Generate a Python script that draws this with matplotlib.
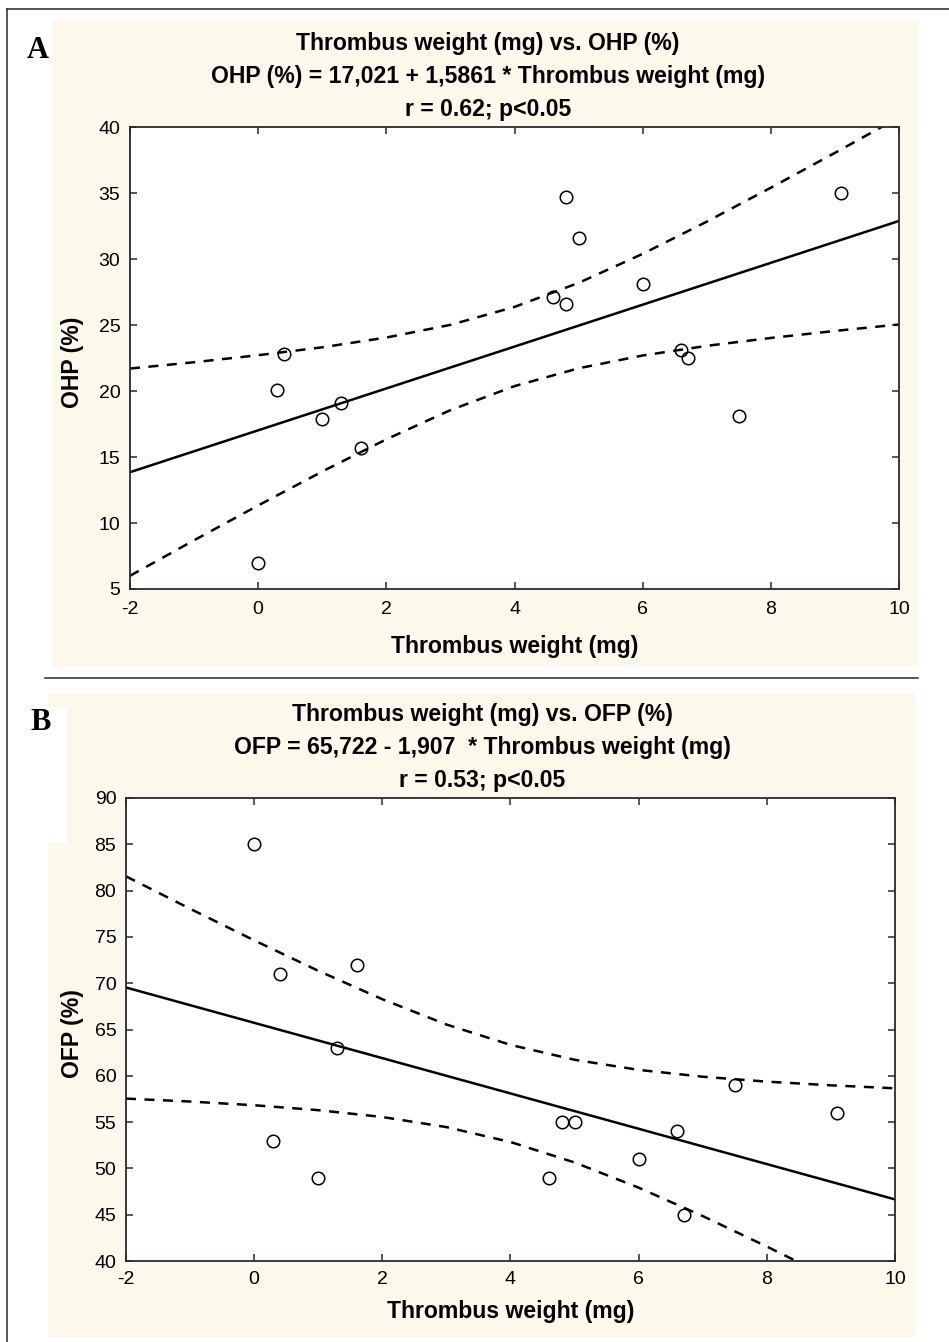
import matplotlib
matplotlib.use("Agg")
import matplotlib.pyplot as plt
from matplotlib.patches import Rectangle
from matplotlib.lines import Line2D

plt.rcParams['font.family'] = ['Liberation Sans', 'DejaVu Sans']
plt.rcParams['axes.unicode_minus'] = False

# ---------------- data ----------------
thrombus_weight = [0.0, 0.3, 0.4, 1.0, 1.3, 1.6, 4.6, 4.8, 4.8, 5.0, 6.0, 6.6, 6.7, 7.5, 9.1]
ohp = [7.0, 20.1, 22.8, 17.9, 19.1, 15.7, 27.1, 26.6, 34.7, 31.6, 28.1, 23.1, 22.5, 18.1, 35.0]

thrombus_weight_b = [0.0, 0.3, 0.4, 1.0, 1.3, 1.6, 4.6, 4.8, 5.0, 6.0, 6.6, 6.7, 7.5, 9.1]
ofp = [85.0, 53.0, 71.0, 49.0, 63.0, 72.0, 49.0, 55.0, 55.0, 51.0, 54.0, 45.0, 59.0, 56.0]

# regression coefficients (from the chart's equations)
ohp_intercept, ohp_slope = 17.021, 1.5861
ofp_intercept, ofp_slope = 65.722, -1.907

# 95% confidence bands
band_x = [-2, -1, 0, 1, 2, 3, 4, 5, 6, 7, 8, 9, 10]
ohp_upper = [21.70, 22.18, 22.71, 23.31, 24.05, 25.01, 26.37, 28.19, 30.39, 32.83, 35.40, 38.04, 40.73]
ohp_lower = [6.00, 8.69, 11.33, 13.90, 16.34, 18.55, 20.37, 21.72, 22.69, 23.42, 24.02, 24.55, 25.04]
ofp_upper = [81.54, 78.04, 74.63, 71.34, 68.27, 65.54, 63.34, 61.73, 60.64, 59.90, 59.37, 58.97, 58.65]
ofp_lower = [57.54, 57.22, 56.82, 56.29, 55.55, 54.46, 52.85, 50.64, 47.92, 44.85, 41.56, 38.15, 34.65]

x_ticks = [-2, 0, 2, 4, 6, 8, 10]
ohp_ticks = [5, 10, 15, 20, 25, 30, 35, 40]
ofp_ticks = [40, 45, 50, 55, 60, 65, 70, 75, 80, 85, 90]

title_a = ["Thrombus weight (mg) vs. OHP (%)",
           "OHP (%) = 17,021 + 1,5861 * Thrombus weight (mg)",
           "r = 0.62; p<0.05"]
title_b = ["Thrombus weight (mg) vs. OFP (%)",
           "OFP = 65,722 - 1,907  * Thrombus weight (mg)",
           "r = 0.53; p<0.05"]
xlabel = "Thrombus weight (mg)"

# ---------------- layout ----------------
W, H = 949, 1342
fig = plt.figure(figsize=(W / 100, H / 100), dpi=100)
fig.patch.set_facecolor('white')

def fx(x):
    return x / W

def fy(y):
    return 1 - y / H

BEIGE = '#fdf8ec'
DARK = '#2a2a2a'

def rect(x0, y0, x1, y1, color):
    fig.add_artist(Rectangle((fx(x0), fy(y1)), fx(x1) - fx(x0), fy(y0) - fy(y1),
                             transform=fig.transFigure, facecolor=color,
                             edgecolor='none', zorder=-2))

# panel backgrounds
rect(52, 20, 919, 667, BEIGE)
rect(48, 693, 915, 1337, BEIGE)
rect(47, 707, 67, 843, 'white')

# outer border (top and left) and divider
fig.add_artist(Line2D([fx(7), fx(7)], [fy(9), fy(H + 5)], transform=fig.transFigure,
                      color=DARK, lw=1.1))
fig.add_artist(Line2D([fx(7), fx(W + 5)], [fy(9), fy(9)], transform=fig.transFigure,
                      color=DARK, lw=1.1))
fig.add_artist(Line2D([fx(45), fx(918)], [fy(678), fy(678)], transform=fig.transFigure,
                      color=DARK, lw=1.1))


def make_panel(box, xs, ys, intercept, slope, upper, lower, yticks, ylabel,
               titles, title_cx, letter, letter_xy, xlabel_y, xpad):
    x0, y0, x1, y1 = box
    ax = fig.add_axes([fx(x0), fy(y1), fx(x1) - fx(x0), fy(y0) - fy(y1)])
    ax.set_facecolor('white')
    ax.set_xlim(x_ticks[0], x_ticks[-1])
    ax.set_ylim(yticks[0], yticks[-1])
    ax.set_xticks(x_ticks)
    ax.set_yticks(yticks)
    ax.tick_params(direction='in', top=True, right=True, length=5, width=1.1,
                   color=DARK, labelsize=14, labelcolor='black')
    ax.tick_params(axis='x', pad=xpad)
    ax.tick_params(axis='y', pad=7)
    for s in ax.spines.values():
        s.set_linewidth(1.3)
        s.set_color(DARK)
    lx = [x_ticks[0], x_ticks[-1]]
    ax.plot(lx, [intercept + slope * v for v in lx], color='black', lw=1.8,
            solid_capstyle='butt')
    ax.plot(band_x, upper, color='black', lw=1.8, linestyle=(0, (4, 3.4)))
    ax.plot(band_x, lower, color='black', lw=1.8, linestyle=(0, (4, 3.4)))
    ax.plot(xs, ys, linestyle='none', marker='o', markersize=9,
            markerfacecolor='none', markeredgecolor='black', markeredgewidth=1.1,
            clip_on=False, zorder=5)
    # titles
    base = y0 - 77
    for i, t in enumerate(titles):
        fig.text(fx(title_cx), fy(base + 33 * i), t, ha='center', va='baseline',
                 fontsize=16.6, fontweight='bold')
    # axis labels
    fig.text(fx((x0 + x1) / 2), fy(xlabel_y), xlabel, ha='center', va='baseline',
             fontsize=16.6, fontweight='bold')
    fig.text(fx(73), fy((y0 + y1) / 2 + 4), ylabel, ha='center', va='center',
             rotation=90, fontsize=16.6, fontweight='bold')
    fig.text(fx(letter_xy[0]), fy(letter_xy[1]), letter, ha='center', va='center',
             fontsize=22, fontweight='bold', family='Liberation Serif')
    return ax


make_panel((130, 127, 899, 589), thrombus_weight, ohp, ohp_intercept, ohp_slope,
           ohp_upper, ohp_lower, ohp_ticks, "OHP (%)", title_a, 488, "A", (38, 50), 653, 8.5)
make_panel((126, 798, 895, 1261), thrombus_weight_b, ofp, ofp_intercept, ofp_slope,
           ofp_upper, ofp_lower, ofp_ticks, "OFP (%)", title_b, 482, "B", (41, 723), 1318, 7)

fig.savefig("out.png", dpi=100, facecolor='white')
